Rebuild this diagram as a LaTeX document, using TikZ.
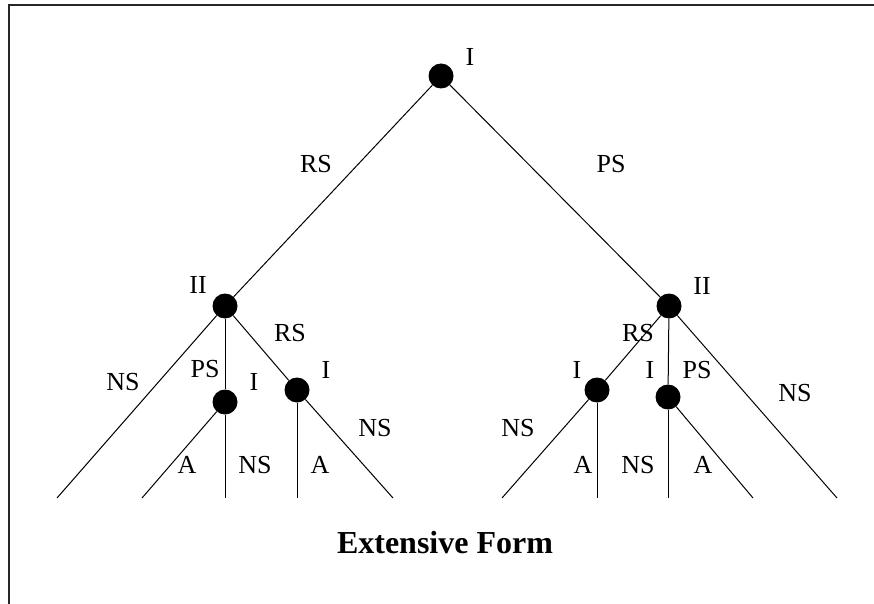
\documentclass[tikz,border=0pt]{standalone}
\usepackage{fontspec}
\setmainfont{Liberation Serif}
\begin{document}
\begin{tikzpicture}[x=1pt,y=-1pt,
  dot/.style={circle,fill=black,draw=none,minimum size=25pt,inner sep=0pt},
  lbl/.style={inner sep=0pt,font=\fontsize{26}{28}\selectfont},
  edge/.style={line width=1pt,black}]
\useasboundingbox (0,0) rectangle (874,604);
\begin{scope}
\clip (0,0) rectangle (874,604);
\draw[line width=2pt,black!85] (8.5,620) -- (8.5,5.5) -- (890,5.5);
\end{scope}
% nodes
\node[dot] (root) at (441,76) {};
\node[dot] (L2) at (225,306) {};
\node[dot] (R2) at (669,306) {};
\node[dot] (LL) at (225,402) {};
\node[dot] (LR) at (297,390) {};
\node[dot] (RL) at (597,390) {};
\node[dot] (RR) at (668,397) {};
% leaves
\coordinate (l1) at (57,498);
\coordinate (l2) at (142,498);
\coordinate (l3) at (225,498);
\coordinate (l4) at (297,498);
\coordinate (l5) at (393,498);
\coordinate (r1) at (502,498);
\coordinate (r2) at (597,498);
\coordinate (r3) at (668,498);
\coordinate (r4) at (753,498);
\coordinate (r5) at (837,498);
% edges
\draw[edge] (root) -- (L2);
\draw[edge] (root) -- (R2);
\draw[edge] (L2) -- (l1);
\draw[edge] (L2) -- (LL);
\draw[edge] (L2) -- (LR);
\draw[edge] (LL) -- (l2);
\draw[edge] (LL) -- (l3);
\draw[edge] (LR) -- (l4);
\draw[edge] (LR) -- (l5);
\draw[edge] (R2) -- (RL);
\draw[edge] (R2) -- (RR);
\draw[edge] (R2) -- (r5);
\draw[edge] (RL) -- (r1);
\draw[edge] (RL) -- (r2);
\draw[edge] (RR) -- (r3);
\draw[edge] (RR) -- (r4);
% player labels
\node[lbl] (proot) at (470,57) {I};
\node[lbl] (pL2) at (198,285) {II};
\node[lbl] (pR2) at (702,286) {II};
\node[lbl] (pLL) at (254,382) {I};
\node[lbl] (pLR) at (326,370) {I};
\node[lbl] (pRL) at (577,370) {I};
\node[lbl] (pRR) at (650,370) {I};
% action labels
\node[lbl] (a1) at (316,164) {RS};
\node[lbl] (a2) at (611,164) {PS};
\node[lbl] (a3) at (123,382) {NS};
\node[lbl] (a4) at (205,369) {PS};
\node[lbl] (a5) at (290,333) {RS};
\node[lbl] (a6) at (375,428) {NS};
\node[lbl] (a7) at (187,465) {A};
\node[lbl] (a8) at (255,465) {NS};
\node[lbl] (a9) at (320,465) {A};
\node[lbl] (b1) at (638,333) {RS};
\node[lbl] (b2) at (697,370) {PS};
\node[lbl] (b3) at (795,393) {NS};
\node[lbl] (b4) at (518,428) {NS};
\node[lbl] (b5) at (583,465) {A};
\node[lbl] (b6) at (638,465) {NS};
\node[lbl] (b7) at (703,465) {A};
% title
\node[inner sep=0pt,font=\fontsize{32}{34}\selectfont\bfseries] (title) at (445,543) {Extensive Form};
\end{tikzpicture}
\end{document}
